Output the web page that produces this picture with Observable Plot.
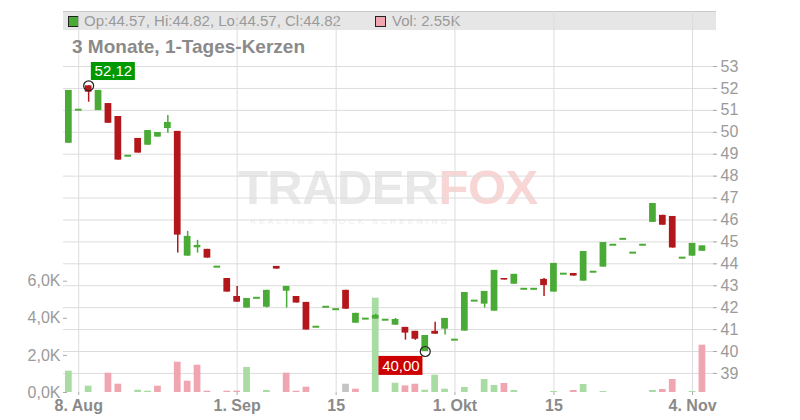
<!DOCTYPE html>
<html>
<head>
<meta charset="utf-8">
<script src="https://cdn.jsdelivr.net/npm/d3@7"></script>
<script src="https://cdn.jsdelivr.net/npm/@observablehq/plot@0.6"></script>
<style>
  body { margin: 0; background: #fff; font-family: "Liberation Sans", Arial, sans-serif; }
  #wrap { position: relative; width: 800px; height: 420px; overflow: hidden; }
  #band { position: absolute; left: 63px; top: 11px; width: 653px; height: 19px; background: #e6e6e6; border-top: 1px solid #c8c8c8; box-sizing: border-box; z-index: 0; }
  .sq { position: absolute; top: 16px; width: 9px; height: 9px; border: 1px solid #222; z-index: 0; }
  .htxt { position: absolute; top: 12px; font-size: 15px; line-height: 18px; color: #9a9a9a; white-space: nowrap; z-index: 0; }
  #title { position: absolute; left: 72px; top: 36px; font-size: 19px; font-weight: bold; color: #8a8a8a; white-space: nowrap; z-index: 2; }
  #wm { position: absolute; left: 238px; top: 164px; z-index: 0; white-space: nowrap; }
  #wm .big { font-size: 49px; font-weight: bold; letter-spacing: -0.6px; line-height: 46px; height: 46px; }
  #wm .small { font-size: 8px; line-height: 9px; letter-spacing: 3.4px; color: #ececec; margin-left: 12px; margin-top: 7px; }
  #chart { position: absolute; left: 0; top: 0; z-index: 1; }
</style>
</head>
<body>
<div id="wrap">
  <div id="band"></div>
  <div class="sq" style="left:68px;background:#4aaa36"></div>
  <div class="htxt" id="ohlc" style="left:84px"></div>
  <div class="sq" style="left:375px;background:#f0a6b0"></div>
  <div class="htxt" id="voltxt" style="left:392px"></div>
  <div id="wm">
    <div class="big"><span style="color:#e8e8e8">TRADER</span><span style="color:#f9d6d6">FOX</span></div>
    <div class="small">REALTIME STOCK SCREENING</div>
  </div>
  <div id="title">3 Monate, 1-Tages-Kerzen</div>
  <div id="chart"></div>
</div>
<script>
// ---- data (daily candles, 7 Aug – 5 Nov) ----
const opens  = [49.50,51.03,52.12,50.99,51.31,50.72,48.93,49.72,49.41,49.78,50.17,50.04,44.35,44.73,44.66,43.87,43.33,42.51,41.98,42.45,42.02,43.88,42.75,42.51,42.24,41.13,42.04,41.93,42.79,41.29,41.50,41.48,41.45,41.20,41.10,40.92,40.00,40.92,41.02,40.54,40.93,42.32,42.16,41.84,43.33,43.07,42.86,42.86,43.29,42.71,43.55,43.56,43.21,43.64,43.85,44.87,45.14,44.51,44.87,45.89,46.21,46.16,44.28,44.35,44.57];
const highs  = [51.91,51.03,52.12,51.91,51.31,50.72,48.93,49.72,50.08,49.99,50.77,50.04,45.48,45.07,44.66,43.87,43.33,42.97,42.42,42.45,42.79,43.88,42.97,42.51,42.24,41.13,42.04,41.93,42.79,41.74,41.50,41.70,41.45,41.51,41.10,40.92,40.73,41.33,41.51,40.54,42.69,42.32,42.74,43.70,43.33,43.52,42.86,42.86,43.33,44.02,43.55,43.56,44.56,43.64,44.97,44.87,45.14,44.51,44.87,46.75,46.21,46.16,44.28,44.93,44.82];
const lows   = [49.50,51.03,51.37,50.99,50.41,48.73,48.93,49.05,49.41,49.78,49.96,44.49,44.35,44.49,44.26,43.87,42.71,42.25,41.98,42.45,41.98,43.76,41.98,42.21,40.98,41.13,42.04,41.93,41.93,41.29,41.50,41.48,41.45,41.20,40.52,40.51,40.00,40.79,40.75,40.54,40.93,42.32,41.98,41.84,43.26,43.07,42.86,42.86,42.51,42.71,43.55,43.44,43.21,43.64,43.85,44.87,45.14,44.51,44.87,45.89,45.76,44.72,44.28,44.35,44.57];
const closes = [51.91,51.03,51.83,51.91,50.41,48.73,48.93,49.05,50.08,49.99,50.45,45.31,45.25,44.84,44.26,43.87,42.71,42.25,42.42,42.45,42.79,43.76,42.97,42.21,40.98,41.13,42.04,41.93,41.93,41.74,41.50,41.65,41.45,41.46,40.84,40.56,40.73,40.79,41.51,40.54,42.69,42.32,42.74,43.70,43.26,43.52,42.86,42.86,43.01,44.02,43.55,43.44,44.56,43.64,44.97,44.87,45.14,44.51,44.87,46.75,45.76,44.72,44.28,44.93,44.82];
const volumes = [1150,0,340,0,1040,447,0,124,70,340,0,1633,609,1471,70,0,70,70,1348,0,108,0,1040,70,285,0,0,0,447,178,0,5083,0,500,356,447,124,933,178,0,270,0,700,377,485,108,0,0,0,54,0,108,431,0,54,0,0,0,0,108,162,700,0,54,2550];

// ---- axis ticks ----
const priceTicks = [39,40,41,42,43,44,45,46,47,48,49,50,51,52,53];
const volTicks   = [0,2000,4000,6000];
const volLabels  = ["0,0K","2,0K","4,0K","6,0K"];
const dateIdx    = [1,17,27,39,49,63];
const dateLabels = ["8. Aug","1. Sep","15","1. Okt","15","4. Nov"];

// ---- scale setup ----
const X_DOMAIN = [-0.54, 65.42];
const Y_DOMAIN = [38.13, 55.51];
const VOL_TOP = 20540;               // volume value at the top of the frame
const vy = v => Y_DOMAIN[0] + v / VOL_TOP * (Y_DOMAIN[1] - Y_DOMAIN[0]);

const GREEN = "#4aaa36", RED = "#b3161b";
const VGREEN = "#a9dca2", VRED = "#f0a6b0", VGRAY = "#c4c4c4";
const HW = 0.34;

const n = opens.length;
const idx = d3.range(n);
const candleColor = i => closes[i] >= opens[i] ? GREEN : RED;
const volColor = i => i === 0 || closes[i] > closes[i-1] ? VGREEN : (closes[i] < closes[i-1] ? VRED : VGRAY);

const hiI = d3.maxIndex(highs), loI = d3.minIndex(lows);
const fmt2 = d3.format(".2f");
const comma = v => fmt2(v).replace(".", ",");

// header texts from the last candle
document.getElementById("ohlc").textContent =
  `Op:${fmt2(opens[n-1])}, Hi:${fmt2(highs[n-1])}, Lo:${fmt2(lows[n-1])}, Cl:${fmt2(closes[n-1])}`;
document.getElementById("voltxt").textContent = `Vol: ${fmt2(volumes[n-1]/1000)}K`;

const FONT = "Liberation Sans, Arial, sans-serif";

const chart = Plot.plot({
  width: 800, height: 420,
  marginLeft: 63, marginRight: 84, marginTop: 11, marginBottom: 28,
  x: {domain: X_DOMAIN},
  y: {domain: Y_DOMAIN},
  style: {background: "transparent", fontFamily: FONT},
  marks: [
    Plot.gridY(priceTicks, {stroke: "#dcdcdc", strokeOpacity: 1}),
    Plot.gridX(dateIdx, {stroke: "#dcdcdc", strokeOpacity: 1}),
    // volume
    Plot.rect(idx.filter(i => volumes[i] > 0), {
      x1: i => i - HW, x2: i => i + HW,
      y1: i => Y_DOMAIN[0], y2: i => vy(volumes[i]),
      fill: volColor
    }),
    // wicks
    Plot.ruleX(idx.filter(i => highs[i] > lows[i]), {
      x: i => i, y1: i => lows[i], y2: i => highs[i],
      stroke: candleColor, strokeWidth: 1.5
    }),
    // bodies
    Plot.rect(idx.filter(i => opens[i] !== closes[i]), {
      x1: i => i - HW, x2: i => i + HW,
      y1: i => opens[i], y2: i => closes[i],
      fill: candleColor
    }),
    // flat days
    Plot.ruleY(idx.filter(i => opens[i] === closes[i]), {
      y: i => closes[i], x1: i => i - HW, x2: i => i + HW,
      stroke: candleColor, strokeWidth: 2
    }),
    // axes
    Plot.axisY(priceTicks, {anchor: "right", line: true, stroke: "#aaa", fill: "#9a9a9a",
      tickSize: -4, tickPadding: 8, fontSize: 16, label: null}),
    Plot.axisY(volTicks.map(vy), {anchor: "left", line: true, stroke: "#aaa", fill: "#9a9a9a",
      tickSize: -4, tickPadding: 7, fontSize: 16, label: null,
      tickFormat: (d, i) => volLabels[i]}),
    Plot.axisX(dateIdx, {anchor: "bottom", line: true, stroke: "#aaa", fill: "#8a8a8a",
      tickSize: 3, tickPadding: 4, fontSize: 16, fontWeight: "bold", label: null,
      tickFormat: (d, i) => dateLabels[i]}),
    // extreme markers
    Plot.dot([hiI, loI], {x: i => i, y: i => i === hiI ? highs[i] : lows[i],
      r: 5, stroke: "#222", fill: "none", strokeWidth: 1.2}),
    Plot.rect([hiI], {x1: i => i, x2: i => i, y1: i => highs[i], y2: i => highs[i],
      fill: "#009900", insetLeft: 2.7, insetRight: -46.7, insetTop: -23.3, insetBottom: 5.3}),
    Plot.text([hiI], {x: i => i, y: i => highs[i], text: i => comma(highs[i]),
      dx: 24.7, dy: -14.3, fill: "white", fontSize: 15}),
    Plot.rect([loI], {x1: i => i, x2: i => i, y1: i => lows[i], y2: i => lows[i],
      fill: "#cc0000", insetLeft: -46.3, insetRight: 2.3, insetTop: 4.9, insetBottom: -23.9}),
    Plot.text([loI], {x: i => i, y: i => lows[i], text: i => comma(lows[i]),
      dx: -24.3, dy: 14.4, fill: "white", fontSize: 15})
  ]
});
document.getElementById("chart").appendChild(chart);
</script>
</body>
</html>
